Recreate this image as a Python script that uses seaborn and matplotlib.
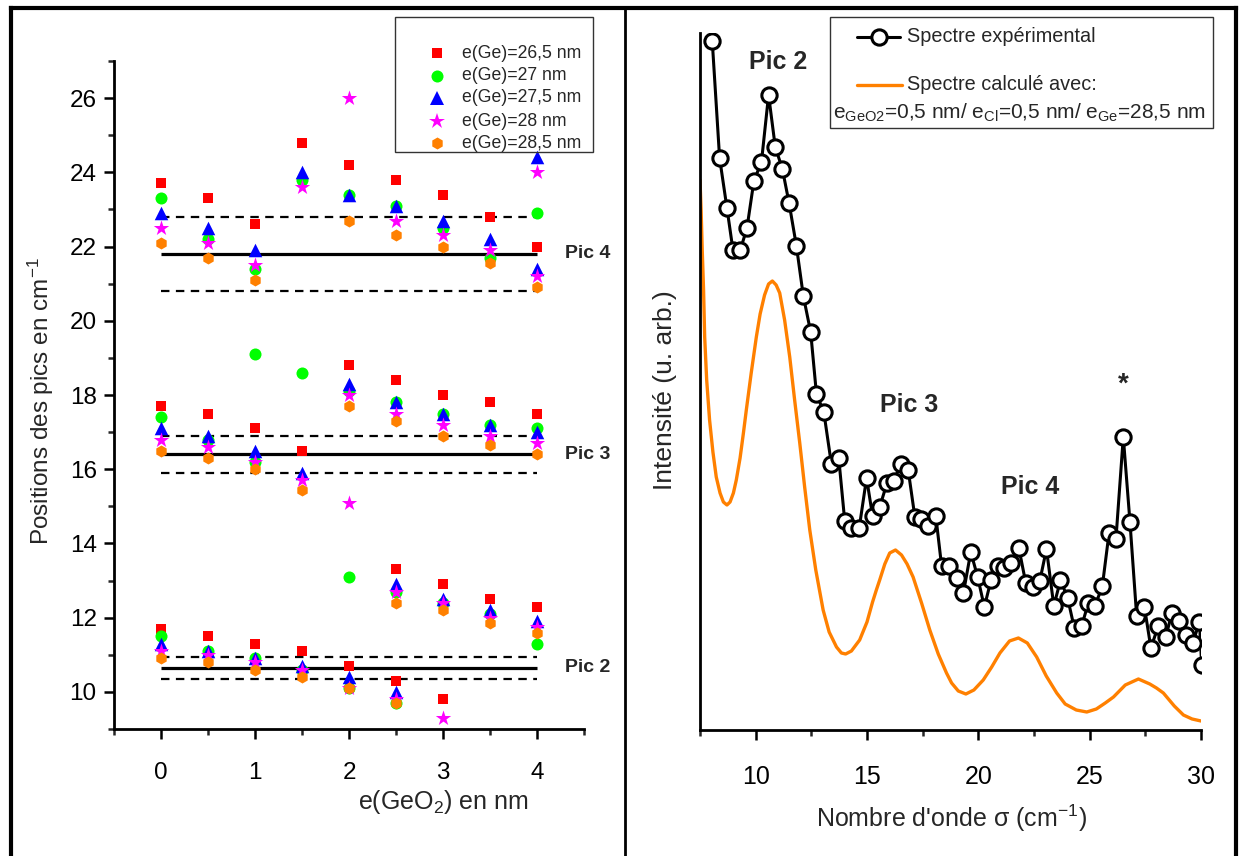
import numpy as np
import pandas as pd
import matplotlib
matplotlib.use("Agg")
import matplotlib.pyplot as plt
import seaborn as sns
from matplotlib.lines import Line2D
from matplotlib.patches import Rectangle
from matplotlib.ticker import MultipleLocator

# ---------------- Left panel data ----------------
e_geo2 = [0, 0.5, 1, 1.5, 2, 2.5, 3, 3.5, 4]
series_labels = ["e(Ge)=26,5 nm", "e(Ge)=27 nm", "e(Ge)=27,5 nm", "e(Ge)=28 nm", "e(Ge)=28,5 nm"]

ge265_pic2 = [11.7, 11.5, 11.3, 11.1, 10.7, 13.3, 12.9, 12.5, 12.3]
ge265_pic3 = [17.7, 17.5, 17.1, 16.5, 18.8, 18.4, 18.0, 17.8, 17.5]
ge265_pic4 = [23.7, 23.3, 22.6, 24.8, 24.2, 23.8, 23.4, 22.8, 22.0]
ge265_extra_x = [2.5, 3]
ge265_extra_y = [10.3, 9.8]

ge27_pic2 = [11.5, 11.1, 10.9, 10.6, 13.1, 12.7, 12.4, 12.1, 11.3]
ge27_pic3 = [17.4, 16.8, 19.1, 18.6, 18.1, 17.8, 17.5, 17.2, 17.1]
ge27_pic4 = [23.3, 22.2, 21.4, 23.8, 23.4, 23.1, 22.5, 21.7, 22.9]
ge27_extra_x = [1, 2, 2.5]
ge27_extra_y = [16.2, 10.1, 9.7]

ge275_pic2 = [11.3, 11.1, 10.9, 10.7, 10.4, 12.9, 12.5, 12.2, 11.9]
ge275_pic3 = [17.1, 16.9, 16.5, 15.9, 18.3, 17.8, 17.5, 17.2, 17.0]
ge275_pic4 = [22.9, 22.5, 21.9, 24.0, 23.4, 23.1, 22.7, 22.2, 24.4]
ge275_extra_x = [2.5, 4]
ge275_extra_y = [10.0, 21.4]

ge28_pic2 = [11.1, 11.0, 10.8, 10.6, 10.1, 12.7, 12.4, 12.0, 11.75]
ge28_pic3 = [16.8, 16.6, 16.2, 15.7, 18.0, 17.5, 17.2, 16.9, 16.7]
ge28_pic4 = [22.5, 22.1, 21.5, 23.6, 26.0, 22.7, 22.3, 21.9, 24.0]
ge28_extra_x = [2, 2.5, 3, 4]
ge28_extra_y = [15.1, 9.8, 9.3, 21.2]

ge285_pic2 = [10.9, 10.8, 10.6, 10.4, 10.1, 12.4, 12.2, 11.85, 11.6]
ge285_pic3 = [16.5, 16.3, 16.0, 15.45, 17.7, 17.3, 16.9, 16.65, 16.4]
ge285_pic4 = [22.1, 21.7, 21.1, np.nan, 22.7, 22.3, 22.0, 21.55, 20.9]
ge285_extra_x = [2.5]
ge285_extra_y = [9.7]

pic_names = ["Pic 2", "Pic 3", "Pic 4"]
pic_centres = [10.65, 16.4, 21.8]
pic_half_widths = [0.3, 0.5, 1.0]

# ---------------- Right panel data ----------------
exp_sigma = [8.05, 8.38, 8.71, 8.98, 9.31, 9.61, 9.92, 10.26, 10.58, 10.88,
             11.20, 11.50, 11.83, 12.14, 12.47, 12.73, 13.06, 13.40, 13.73, 14.00,
             14.30, 14.65, 14.98, 15.25, 15.57, 15.90, 16.20, 16.52, 16.85, 17.15,
             17.41, 17.75, 18.09, 18.35, 18.67, 19.02, 19.33, 19.66, 19.97, 20.27,
             20.57, 20.87, 21.17, 21.46, 21.82, 22.13, 22.44, 22.76, 23.06, 23.39,
             23.69, 24.01, 24.31, 24.64, 24.94, 25.24, 25.57, 25.87, 26.18, 26.51,
             26.81, 27.11, 27.46, 27.75, 28.08, 28.42, 28.69, 29.01, 29.33, 29.63,
             29.93, 30.03]
exp_intensity = [689, 572, 522, 480, 480, 502, 549, 568, 635, 583,
                 561, 527, 484, 434, 398, 336, 318, 266, 272, 209,
                 202, 202, 252, 214, 223, 247, 249, 266, 260, 213,
                 211, 204, 214, 164, 164, 152, 137, 178, 153, 123,
                 150, 164, 162, 167, 182, 147, 143, 149, 181, 124,
                 150, 132, 102, 104, 127, 124, 144, 197, 191, 293,
                 208, 114, 123, 82, 104, 93, 117, 109, 95, 87,
                 108, 65]

calc_sigma = [7.5, 7.55, 7.6, 7.66, 7.71, 7.8, 7.93, 8.08, 8.23, 8.4,
              8.55, 8.71, 8.85, 9.0, 9.13, 9.3, 9.45, 9.58, 9.8, 10.03,
              10.2, 10.4, 10.58, 10.75, 10.92, 11.08, 11.3, 11.53, 11.75, 11.98,
              12.2, 12.43, 12.7, 13.03, 13.3, 13.63, 13.85, 14.04, 14.3, 14.67,
              15.0, 15.25, 15.42, 15.57, 15.8, 16.02, 16.28, 16.55, 16.8, 17.07,
              17.45, 17.82, 18.2, 18.57, 18.8, 19.1, 19.44, 19.8, 20.22, 20.6,
              20.97, 21.4, 21.8, 22.2, 22.62, 23.05, 23.52, 23.9, 24.4, 24.87,
              25.3, 25.7, 26.07, 26.6, 27.19, 27.7, 28.0, 28.31, 28.8, 29.21,
              29.6, 30.0]
calc_intensity = [550, 520, 480, 440, 393, 350, 310, 278, 253, 237,
                  228, 225, 228, 237, 250, 272, 297, 320, 357, 393,
                  416, 435, 446, 449, 445, 437, 410, 373, 330, 287,
                  243, 200, 160, 120, 98, 83, 77, 76, 79, 90,
                  108, 128, 140, 150, 166, 177, 180, 175, 166, 153,
                  127, 100, 76, 57, 47, 39, 36, 40, 50, 63,
                  77, 89, 92, 87, 73, 54, 37, 26, 20, 18,
                  21, 27, 33, 45, 51, 46, 42, 37, 24, 15,
                  11, 9]

# ---------------- Styling ----------------
sns.set_style("ticks")
plt.rcParams["font.family"] = ["Liberation Sans", "DejaVu Sans"]
plt.rcParams["mathtext.fontset"] = "custom"
plt.rcParams["mathtext.rm"] = "Liberation Sans"
plt.rcParams["mathtext.it"] = "Liberation Sans:italic"
plt.rcParams["mathtext.bf"] = "Liberation Sans:bold"
plt.rcParams["mathtext.default"] = "regular"

W, H = 1239, 856
fig = plt.figure(figsize=(W / 100, H / 100), dpi=100)
fig.patch.set_facecolor("white")


def fx(px):
    return px / W


def fy(py):
    return 1 - py / H


colors = ["#FF0000", "#00FF00", "#0000FF", "#FF00FF", "#FF8000"]
markers = ["s", "o", "^", "*", "h"]
sizes = [60, 75, 95, 135, 75]

series = [
    (ge265_pic2, ge265_pic3, ge265_pic4, ge265_extra_x, ge265_extra_y),
    (ge27_pic2, ge27_pic3, ge27_pic4, ge27_extra_x, ge27_extra_y),
    (ge275_pic2, ge275_pic3, ge275_pic4, ge275_extra_x, ge275_extra_y),
    (ge28_pic2, ge28_pic3, ge28_pic4, ge28_extra_x, ge28_extra_y),
    (ge285_pic2, ge285_pic3, ge285_pic4, ge285_extra_x, ge285_extra_y),
]

rows = []
for label, (p2, p3, p4, ex, ey) in zip(series_labels, series):
    for pic in (p2, p3, p4):
        for x, y in zip(e_geo2, pic):
            if not np.isnan(y):
                rows.append((label, x, y))
    for x, y in zip(ex, ey):
        rows.append((label, x, y))
df = pd.DataFrame(rows, columns=["serie", "e_geo2", "position"])

# ---------------- Left axes ----------------
ax1 = fig.add_axes([fx(114), fy(729), fx(584) - fx(114), fy(61) - fy(729)])

for i, (pc, hw) in enumerate(zip(pic_centres, pic_half_widths)):
    ax1.hlines(pc, e_geo2[0], e_geo2[-1], colors="black", lw=2.3, zorder=1)
    ax1.hlines([pc - hw, pc + hw], e_geo2[0], e_geo2[-1], colors="black",
               lw=1.6, linestyles=(0, (3.8, 2.9)), zorder=1)
    ax1.text(4.30, pc, pic_names[i], fontsize=14, fontweight="bold",
             ha="left", va="center", clip_on=False)

for label, col, mk, s in zip(series_labels, colors, markers, sizes):
    sub = df[df["serie"] == label]
    sns.scatterplot(data=sub, x="e_geo2", y="position", marker=mk, color=col,
                    s=s, linewidth=0, ax=ax1, legend=False, zorder=3,
                    clip_on=False)

ax1.set_xlim(-0.5, 4.5)
ax1.set_ylim(9, 27)
ax1.xaxis.set_major_locator(MultipleLocator(1))
ax1.xaxis.set_minor_locator(MultipleLocator(0.5))
ax1.yaxis.set_major_locator(MultipleLocator(2))
ax1.yaxis.set_minor_locator(MultipleLocator(1))
ax1.set_xticks([0, 1, 2, 3, 4])
ax1.set_yticks([10, 12, 14, 16, 18, 20, 22, 24, 26])
ax1.tick_params(which="major", direction="out", length=7.5, width=1.8,
                labelsize=17.5, color="black", labelcolor="black")
ax1.tick_params(axis="x", which="major", pad=16)
ax1.tick_params(axis="y", which="major", pad=5)
ax1.tick_params(which="minor", direction="out", length=4.5, width=1.8)
for side in ("top", "right"):
    ax1.spines[side].set_visible(False)
for side in ("left", "bottom"):
    ax1.spines[side].set_linewidth(2.0)
    ax1.spines[side].set_color("black")
ax1.set_xlabel("e(GeO$_2$) en nm", fontsize=18, va="center")
ax1.xaxis.set_label_coords(fx(443), fy(802), transform=fig.transFigure)
ax1.set_ylabel("Positions des pics en cm$^{-1}$", fontsize=17.5, va="center")
ax1.yaxis.set_label_coords(fx(41), fy(401), transform=fig.transFigure)

# Left legend (drawn manually)
fig.add_artist(Rectangle((fx(395), fy(152)), fx(593) - fx(395), fy(17) - fy(152),
                         transform=fig.transFigure, fill=False,
                         edgecolor="#333333", lw=1.0))
leg_y = [53, 76, 98, 121, 143]
for label, col, mk, s, yy in zip(series_labels, colors, markers, sizes, leg_y):
    fig.add_artist(Line2D([fx(437)], [fy(yy)], marker=mk, color=col,
                          markersize=np.sqrt(s), linestyle="none",
                          markeredgewidth=0, transform=fig.transFigure))
    fig.text(fx(462), fy(yy), label, fontsize=12.7, ha="left", va="center")

# ---------------- Right axes ----------------
ax2 = fig.add_axes([fx(700), fy(730), fx(1201) - fx(700), fy(33) - fy(730)])
orange = "#FF8000"
sns.lineplot(x=calc_sigma, y=calc_intensity, sort=False, estimator=None,
             color=orange, lw=2.4, ax=ax2, zorder=2)
sns.lineplot(x=exp_sigma, y=exp_intensity, sort=False, estimator=None,
             color="black", lw=2.2, marker="o", markersize=11,
             markerfacecolor="white", markeredgecolor="black",
             markeredgewidth=2.2, ax=ax2, zorder=3)
ax2.set_xlim(7.5, 30)
ax2.set_ylim(0, 697)
ax2.xaxis.set_major_locator(MultipleLocator(5))
ax2.xaxis.set_minor_locator(MultipleLocator(2.5))
ax2.set_yticks([])
ax2.tick_params(which="major", direction="out", length=7.5, width=1.8,
                labelsize=18, pad=18, color="black", labelcolor="black")
ax2.tick_params(which="minor", direction="out", length=4.5, width=1.8)
for side in ("top", "right"):
    ax2.spines[side].set_visible(False)
for side in ("left", "bottom"):
    ax2.spines[side].set_linewidth(2.0)
    ax2.spines[side].set_color("black")
ax2.set_xlabel("Nombre d'onde σ (cm$^{-1}$)", fontsize=18, va="center")
ax2.xaxis.set_label_coords(fx(951), fy(818), transform=fig.transFigure)
ax2.set_ylabel("Intensité (u. arb.)", fontsize=19, va="center")
ax2.yaxis.set_label_coords(fx(665), fy(390), transform=fig.transFigure)

ax2.text(11.03, 668, "Pic 2", fontsize=18, fontweight="bold", ha="center", va="center")
ax2.text(16.88, 325, "Pic 3", fontsize=18, fontweight="bold", ha="center", va="center")
ax2.text(22.31, 243, "Pic 4", fontsize=18, fontweight="bold", ha="center", va="center")
ax2.text(26.51, 345, "*", fontsize=20, fontweight="bold", ha="center", va="center")

# Right legend (drawn manually)
fig.add_artist(Rectangle((fx(830), fy(128)), fx(1213) - fx(830), fy(17) - fy(128),
                         transform=fig.transFigure, fill=False,
                         edgecolor="#333333", lw=1.0))
fig.add_artist(Line2D([fx(857), fx(900)], [fy(37), fy(37)], color="black", lw=2.2,
                      transform=fig.transFigure))
fig.add_artist(Line2D([fx(878.5)], [fy(37)], marker="o", markersize=11,
                      markerfacecolor="white", markeredgecolor="black",
                      markeredgewidth=2.2, linestyle="none",
                      transform=fig.transFigure))
fig.text(fx(907), fy(37), "Spectre expérimental", fontsize=14.3, ha="left", va="center")
fig.add_artist(Line2D([fx(857), fx(902)], [fy(85), fy(85)], color=orange, lw=2.4,
                      transform=fig.transFigure))
fig.text(fx(907), fy(85), "Spectre calculé avec:", fontsize=14.3, ha="left", va="center")
fig.text(fx(833), fy(113), "e$_{GeO2}$=0,5 nm/ e$_{Cl}$=0,5 nm/ e$_{Ge}$=28,5 nm",
         fontsize=15, ha="left", va="center")

# Figure frame and separator
for xs, ys, lw in [([11, 11], [8, 856], 3.0), ([11, 1236], [8, 8], 3.0),
                   ([1236, 1236], [8, 856], 3.0), ([625, 625], [8, 856], 2.0)]:
    fig.add_artist(Line2D([fx(v) for v in xs], [fy(v) for v in ys], color="black",
                          lw=lw, transform=fig.transFigure, solid_capstyle="projecting"))

fig.savefig("out.png", dpi=100)
